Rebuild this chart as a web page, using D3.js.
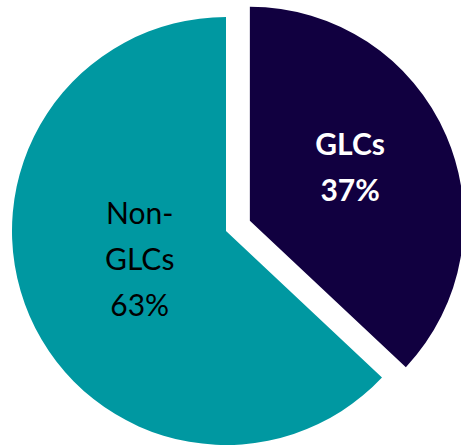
<!DOCTYPE html>
<html>
<head>
<meta charset="utf-8">
<script src="https://cdn.jsdelivr.net/npm/d3@7"></script>
<style>
  html, body { margin: 0; padding: 0; background: #fff; }
  svg { display: block; }
</style>
</head>
<body>
<svg id="chart" width="461" height="447"></svg>
<script>
// Share of companies by ownership type
const categories = ["GLCs", "Non-GLCs"];
const values = [37, 63];
const labelLines = [["GLCs", "37%"], ["Non-", "GLCs", "63%"]];
const colors = ["#110040", "#0098A1"];
const textColors = ["#ffffff", "#000000"];
const textWeights = ["bold", "normal"];
const exploded = [true, false];

const svg = d3.select("#chart");
const cx = 226, cy = 231, radius = 214, explodeDist = 26;

const pie = d3.pie().sort(null).value(d => d.value);
const arc = d3.arc().innerRadius(0).outerRadius(radius);

const data = categories.map((c, i) => ({ name: c, value: values[i], i }));
const arcs = pie(data);

const g = svg.append("g").attr("transform", `translate(${cx},${cy})`);

const slices = g.selectAll("g.slice")
  .data(arcs)
  .join("g")
  .attr("class", "slice")
  .attr("transform", d => {
    if (!exploded[d.data.i]) return null;
    const a = (d.startAngle + d.endAngle) / 2;
    return `translate(${Math.sin(a) * explodeDist},${-Math.cos(a) * explodeDist})`;
  });

slices.append("path")
  .attr("d", arc)
  .attr("fill", d => colors[d.data.i]);

// Labels sit near the mid-angle of each slice, nudged to balance the text block
const labelR = 118;
const nudge = [[-8, -6], [22, -18]];
const lineH = 46;

slices.each(function(d) {
  const i = d.data.i;
  const a = (d.startAngle + d.endAngle) / 2;
  const lx = Math.sin(a) * labelR + nudge[i][0];
  const ly = -Math.cos(a) * labelR + nudge[i][1];
  const lines = labelLines[i];
  const t = d3.select(this).append("text")
    .attr("text-anchor", "middle")
    .attr("font-family", "Lato, 'Open Sans', sans-serif")
    .attr("font-size", 30)
    .attr("font-weight", textWeights[i])
    .attr("fill", textColors[i]);
  lines.forEach((s, k) => {
    t.append("tspan")
      .attr("x", lx)
      .attr("y", ly + (k - (lines.length - 1) / 2) * lineH)
      .attr("dy", "0.35em")
      .text(s);
  });
});
</script>
</body>
</html>
